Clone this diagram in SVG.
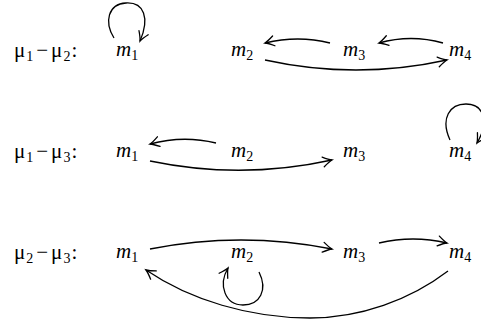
<svg xmlns="http://www.w3.org/2000/svg" width="481" height="323" viewBox="0 0 481 323">
<style>
text{font-family:'Liberation Serif','DejaVu Serif','Times New Roman',serif;font-size:21px;fill:#000}
.m{font-style:italic}
.s{font-style:normal;font-size:14px}
.c{fill:none;stroke:#000;stroke-width:1.3;marker-end:url(#ah)}
</style>
<defs>
<marker id="ah" markerUnits="userSpaceOnUse" markerWidth="20" markerHeight="20" viewBox="-10 -10 20 20" refX="0" refY="0" orient="auto" overflow="visible">
<path d="M-9,-5 Q-3,-1 0,0 Q-3,1 -9,5" fill="none" stroke="#000" stroke-width="1.3" stroke-linecap="round"/>
</marker>
</defs>
<rect width="481" height="323" fill="#fff"/>
<g id="labels">
<text x="14" y="57">μ<tspan class="s" dx="1" dy="4">1</tspan><tspan dx="3" dy="-4">−</tspan><tspan dx="3">μ</tspan><tspan class="s" dx="1" dy="4">2</tspan><tspan dx="1" dy="-4">:</tspan></text>
<text x="14" y="158">μ<tspan class="s" dx="1" dy="4">1</tspan><tspan dx="3" dy="-4">−</tspan><tspan dx="3">μ</tspan><tspan class="s" dx="1" dy="4">3</tspan><tspan dx="1" dy="-4">:</tspan></text>
<text x="14" y="259">μ<tspan class="s" dx="1" dy="4">2</tspan><tspan dx="3" dy="-4">−</tspan><tspan dx="3">μ</tspan><tspan class="s" dx="1" dy="4">3</tspan><tspan dx="1" dy="-4">:</tspan></text>
</g>
<g id="r1m1"><text class="m" x="116" y="56">m<tspan class="s" dy="4">1</tspan></text></g>
<g id="r1m2"><text class="m" x="231" y="56">m<tspan class="s" dy="4">2</tspan></text></g>
<g id="r1m3"><text class="m" x="343" y="56">m<tspan class="s" dy="4">3</tspan></text></g>
<g id="r1m4"><text class="m" x="449" y="56">m<tspan class="s" dy="4">4</tspan></text></g>
<g id="r2m1"><text class="m" x="116" y="157">m<tspan class="s" dy="4">1</tspan></text></g>
<g id="r2m2"><text class="m" x="231" y="157">m<tspan class="s" dy="4">2</tspan></text></g>
<g id="r2m3"><text class="m" x="343" y="157">m<tspan class="s" dy="4">3</tspan></text></g>
<g id="r2m4"><text class="m" x="449" y="157">m<tspan class="s" dy="4">4</tspan></text></g>
<g id="r3m1"><text class="m" x="116" y="258">m<tspan class="s" dy="4">1</tspan></text></g>
<g id="r3m2"><text class="m" x="231" y="258">m<tspan class="s" dy="4">2</tspan></text></g>
<g id="r3m3"><text class="m" x="343" y="258">m<tspan class="s" dy="4">3</tspan></text></g>
<g id="r3m4"><text class="m" x="449" y="258">m<tspan class="s" dy="4">4</tspan></text></g>
<g id="connectors">
<path class="c" d="M114,38 C104,22 108,4 126,3 C144,2 150,18 140,41"/>
<path class="c" d="M330,43 Q298,35 265,43"/>
<path class="c" d="M443,43 Q411,34 379,43"/>
<path class="c" d="M265,60 Q356,80 447,60"/>
<path class="c" d="M216,143 Q183,135 150,144"/>
<path class="c" d="M150,161 Q241,180 332,160"/>
<path class="c" d="M450,140 C440,118 450,104 466,104 C486,104 488,125 477,143"/>
<path class="c" d="M150,249 Q241,231 332,249"/>
<path class="c" d="M379,243 Q413,235 447,243"/>
<path class="c" d="M448,271 C410,300 360,318 310,318 C250,318 190,300 146,270"/>
<path class="c" d="M259,272 C268,290 260,305 243,305 C225,305 218,285 228,268"/>
</g>
</svg>
